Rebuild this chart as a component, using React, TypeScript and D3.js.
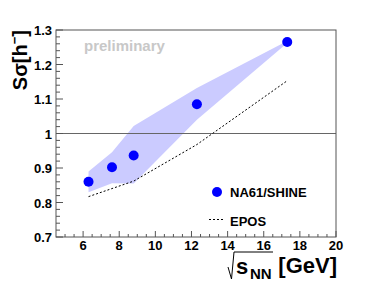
// Scaled variance of negative hadrons vs collision energy, NA61/SHINE vs EPOS

import React, { useEffect, useRef } from "react"
import * as d3 from "d3"

// data
const energies = [6.3, 7.6, 8.8, 12.3, 17.3]
const na61 = [0.86, 0.902, 0.936, 1.085, 1.265]
const bandUpper = [0.89, 0.946, 1.022, 1.132, 1.268]
const bandLower = [0.83, 0.856, 0.855, 1.04, 1.262]
const epos = [0.817, 0.862, 0.968, 1.153]
const eposEnergies = [6.3, 8.8, 12.3, 17.3]
const xTicks = [6, 8, 10, 12, 14, 16, 18, 20]
const yTicks = [0.7, 0.8, 0.9, 1, 1.1, 1.2, 1.3]

const FONT = "'Liberation Sans', Arial, Helvetica, sans-serif"

export default function App() {
  const ref = useRef<SVGSVGElement>(null)

  useEffect(() => {
    const svg = d3.select(ref.current)
    svg.selectAll("*").remove()

    const left = 56, right = 336, top = 30, bottom = 237
    const x = d3.scaleLinear().domain([4.5, 20]).range([left, right])
    const y = d3.scaleLinear().domain([0.7, 1.3]).range([bottom, top])

    // systematic band
    const band = d3.area<number>()
      .x((_, i) => x(energies[i]))
      .y0((_, i) => y(bandLower[i]))
      .y1((_, i) => y(bandUpper[i]))
    svg.append("path")
      .attr("d", band(energies))
      .attr("fill", "#cbcbff")

    // reference line at 1
    svg.append("line")
      .attr("x1", left).attr("x2", right)
      .attr("y1", y(1)).attr("y2", y(1))
      .attr("stroke", "#666").attr("stroke-width", 1)

    // EPOS
    const line = d3.line<number>()
      .x((_, i) => x(eposEnergies[i]))
      .y(d => y(d))
    svg.append("path")
      .attr("d", line(epos))
      .attr("fill", "none")
      .attr("stroke", "#000")
      .attr("stroke-width", 1)
      .attr("stroke-dasharray", "2,2")

    // data points
    svg.selectAll(".pt")
      .data(na61)
      .enter()
      .append("circle")
      .attr("cx", (_, i) => x(energies[i]))
      .attr("cy", d => y(d))
      .attr("r", 5)
      .attr("fill", "#0000ff")

    // frame
    svg.append("rect")
      .attr("x", left).attr("y", top)
      .attr("width", right - left).attr("height", bottom - top)
      .attr("fill", "none").attr("stroke", "#555").attr("stroke-width", 1)

    // x ticks (inside), minor every 0.5
    const xg = svg.append("g").attr("stroke", "#555")
    d3.range(5, 20.01, 0.5).forEach(v => {
      const major = Math.abs(v % 2) < 1e-6
      xg.append("line")
        .attr("x1", x(v)).attr("x2", x(v))
        .attr("y1", bottom).attr("y2", bottom - (major ? 6 : 3))
    })
    svg.selectAll(".xl")
      .data(xTicks)
      .enter()
      .append("text")
      .attr("x", d => x(d))
      .attr("y", bottom + 13)
      .attr("text-anchor", "middle")
      .attr("font-family", FONT)
      .attr("font-weight", "bold")
      .attr("font-size", 13)
      .text(d => d)

    // y ticks, minor every 0.02
    const yg = svg.append("g").attr("stroke", "#555")
    d3.range(0, 31).forEach(k => {
      const v = 0.7 + k * 0.02
      const major = k % 5 === 0
      yg.append("line")
        .attr("x1", left).attr("x2", left + (major ? 7 : 4))
        .attr("y1", y(v)).attr("y2", y(v))
    })
    svg.selectAll(".yl")
      .data(yTicks)
      .enter()
      .append("text")
      .attr("x", left - 4)
      .attr("y", d => y(d) + 5)
      .attr("text-anchor", "end")
      .attr("font-family", FONT)
      .attr("font-weight", "bold")
      .attr("font-size", 13)
      .text(d => (d === 1 ? "1" : d3.format(".1f")(d)))

    // preliminary
    svg.append("text")
      .attr("x", 84).attr("y", 51)
      .attr("font-family", FONT).attr("font-weight", "bold")
      .attr("font-size", 15).attr("fill", "#c8c8c8")
      .text("preliminary")

    // y title
    const yt = svg.append("text")
      .attr("transform", "translate(27,30) rotate(-90)")
      .attr("text-anchor", "end")
      .attr("font-family", FONT).attr("font-weight", "bold")
      .attr("font-size", 20)
    yt.append("tspan").text("Sσ[h")
    yt.append("tspan").attr("font-size", 13).attr("dy", -8).text("−")
    yt.append("tspan").attr("dy", 8).text("]")

    // x title: √s_NN [GeV]
    const title = svg.append("g")
      .attr("font-family", FONT).attr("font-weight", "bold")
    title.append("text").attr("x", 236).attr("y", 274).attr("font-size", 22).text("s")
    title.append("text").attr("x", 250).attr("y", 279).attr("font-size", 15).text("NN")
    title.append("text").attr("x", 337).attr("y", 273)
      .attr("text-anchor", "end").attr("font-size", 22).text("[GeV]")
    svg.append("path")
      .attr("d", "M228,267 L231.5,279 L234,252 L273,252")
      .attr("fill", "none").attr("stroke", "#000").attr("stroke-width", 1)

    // legend
    svg.append("circle").attr("cx", 217).attr("cy", 192).attr("r", 5).attr("fill", "#0000ff")
    svg.append("text")
      .attr("x", 230).attr("y", 197)
      .attr("font-family", FONT).attr("font-weight", "bold").attr("font-size", 13)
      .text("NA61/SHINE")
    svg.append("line")
      .attr("x1", 209).attr("x2", 225).attr("y1", 219.5).attr("y2", 219.5)
      .attr("stroke", "#000").attr("stroke-dasharray", "2,2")
    svg.append("text")
      .attr("x", 230).attr("y", 226)
      .attr("font-family", FONT).attr("font-weight", "bold").attr("font-size", 13)
      .text("EPOS")
  }, [])

  return (
    <svg
      ref={ref}
      width={374}
      height={296}
      style={{ position: "absolute", left: 0, top: 0, background: "#fff" }}
    />
  )
}
